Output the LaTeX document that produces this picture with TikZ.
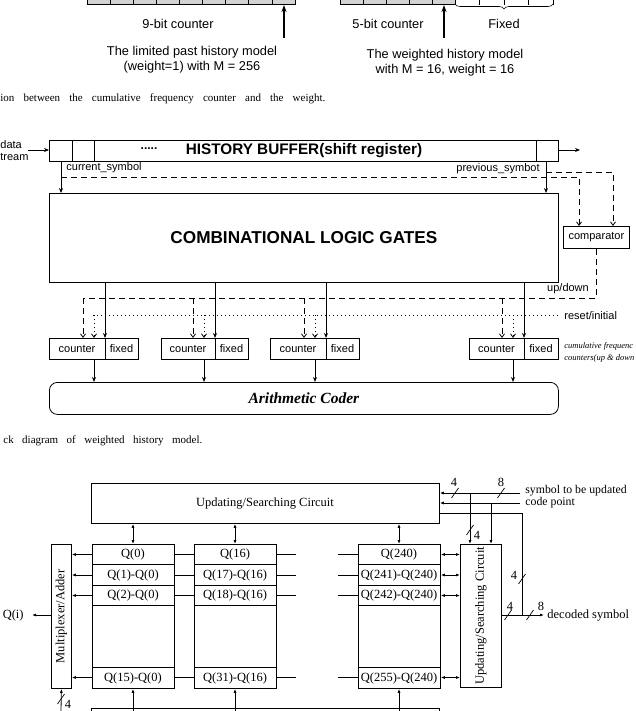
\documentclass[tikz,border=0pt]{standalone}
\usepackage{fontspec}
\setmainfont{Liberation Serif}
\setsansfont{Liberation Sans}
\usetikzlibrary{arrows.meta,decorations.pathreplacing,calc}
\begin{document}
\begin{tikzpicture}[x=1pt,y=-1pt,line width=0.8pt,
  box/.style={draw,inner sep=0pt,anchor=north west},
  cellbox/.style={draw,inner sep=0pt,anchor=south west,fill=gray!35,line width=0.6pt},
  toparrow/.style={-{Stealth[length=7pt,width=5pt]},line width=1.3pt},
  sftop/.style={font=\sffamily\fontsize{12.8}{15}\selectfont,align=center,inner sep=0pt},
  sfs/.style={font=\sffamily\fontsize{11}{12}\selectfont,inner sep=0pt},
  rm/.style={font=\fontsize{12.5}{13}\selectfont,inner sep=0pt},
  rmsm/.style={font=\fontsize{11.8}{12}\selectfont,inner sep=0pt},
  captxt/.style={font=\fontsize{11}{12}\selectfont,inner sep=0pt,anchor=west},
  dshl/.style={dash pattern=on 6pt off 4pt},
  dotl/.style={dash pattern=on 1pt off 3pt},
  sarr/.style={-{Stealth[length=5pt,width=4pt]}},
  oarr/.style={-{Straight Barb[length=3.5pt,width=5pt]}},
  barr/.style={-{Latex[length=4pt,width=3pt]}},
  dbarr/.style={{Latex[length=4pt,width=3pt]}-{Latex[length=4pt,width=3pt]}},
  bus/.pic={\draw[line width=0.7pt] (-3.5,5) -- (3.5,-5);}
]
\useasboundingbox (0,0) rectangle (636,711);
\clip (0,0) rectangle (636,711);

% ---------------- top part ----------------
\node[cellbox,minimum width=208pt,minimum height=14pt] (lstrip) at (87,5) {};
\foreach \i in {1,...,8} \draw[line width=0.6pt] ({87+23.11*\i},-10) -- ({87+23.11*\i},5);
\coordinate (la) at (284,38);
\draw[toparrow] (la) -- (284,0 |- lstrip.south);
\node[sftop] (t9) at (178,24) {9-bit counter};
\node[sftop] (tl) at (192,60) {The limited past history model\\(weight=1) with M = 256};

\node[cellbox,minimum width=115pt,minimum height=14pt] (rstrip) at (340,5) {};
\foreach \i in {1,...,4} \draw[line width=0.6pt] ({340+23*\i},-10) -- ({340+23*\i},5);
\foreach \xx in {479.5,504,528.5,553} \draw[line width=0.6pt] (\xx,-10) -- (\xx,5);
\draw[line width=0.6pt,decorate,decoration={brace,amplitude=5pt,mirror}] (455,4) -- (553,4);
\coordinate (ra) at (444,38);
\draw[toparrow] (ra) -- (444,0 |- rstrip.south);
\node[sftop] (t5) at (388,24) {5-bit counter};
\node[sftop] (tf) at (504,24) {Fixed};
\node[sftop] (tw) at (445,63) {The weighted history model\\with M = 16, weight = 16};

\node[captxt] (cap1) at (0,99) {\makebox[325pt][s]{ion between the cumulative frequency counter and the weight.}};

% ---------------- middle part ----------------
\node[box,minimum width=509pt,minimum height=21pt,line width=1pt] (hb) at (49,140) {};
\foreach \xx in {72,94,536} \draw (\xx,140) -- (\xx,161);
\node[font=\sffamily\bfseries\fontsize{12}{12}\selectfont,inner sep=0pt] (dots) at (149,149) {.....};
\node[font=\sffamily\bfseries\fontsize{15.3}{16}\selectfont,inner sep=0pt] (hbt) at (304,150.5) {HISTORY BUFFER(shift register)};
\node[sfs,anchor=west] (data) at (0,145) {data};
\node[sfs,anchor=west] (tream) at (0,157) {tream};
\coordinate (din) at (28,150);
\draw[sarr] (din) -- (din -| hb.west);
\coordinate (dout) at (580,150);
\draw[sarr] (hb.east |- dout) -- (dout);

\node[box,minimum width=509pt,minimum height=89pt] (lg) at (49,193) {};
\node[font=\sffamily\bfseries\fontsize{17.2}{18}\selectfont,inner sep=0pt] (lgt) at (lg.center) {COMBINATIONAL LOGIC GATES};

\draw[sarr] (61,0 |- hb.south) -- (61,0 |- lg.north);
\node[sfs,anchor=west] (cs) at (66,168) {current\_symbol};
\draw[sarr] (546,0 |- hb.south) -- (546,0 |- lg.north);
\node[sfs,anchor=east] (ps) at (540,168.5) {previous\_symbot};

\node[box,minimum width=66pt,minimum height=22pt] (cmp) at (563,226) {};
\node[sfs] (cmpt) at (cmp.center) {comparator};
\draw[dshl,oarr] (61,177) -- (579,177) -- (579,0 |- cmp.north);
\draw[dshl,oarr] (546,172) -- (613,172) -- (613,0 |- cmp.north);
\draw[dshl] (596,0 |- cmp.south) -- (596,298) -- (83,298);
\node[sfs] (ud) at (568,289) {up/down};
\draw[dotl] (93,315) -- (558,315);
\node[sfs,anchor=west] (ri) at (564,315.5) {reset/initial};

% counter boxes
\node[box,minimum width=509pt,minimum height=32pt,rounded corners=8pt] (ac) at (49,382) {};
\node[font=\bfseries\itshape\fontsize{15.5}{16}\selectfont,inner sep=0pt] (act) at (ac.center) {Arithmetic Coder};
\foreach \l/\d/\r [count=\k] in {49/105/138,161/215/248,270/326/359,469/524/558}{
  \node[box,minimum width={(\r-\l)*1pt},minimum height=21pt] (cb\k) at (\l,338) {};
  \draw (\d,338) -- (\d,359);
  \node[sfs] (cbc\k) at ({(\l+\d)/2},349) {counter};
  \node[sfs] (cbf\k) at ({(\d+\r)/2},349) {fixed};
  \draw[dshl,oarr] (\d-22,298) -- (\d-22,0 |- cb\k.north);
  \draw[dotl,oarr] (\d-11,315) -- (\d-11,0 |- cb\k.north);
  \draw[sarr] (\d,0 |- lg.south) -- (\d,0 |- cb\k.north);
  \draw[sarr] (\d-11,0 |- cb\k.south) -- (\d-11,0 |- ac.north);
}
\node[font=\itshape\fontsize{8.5}{9}\selectfont,inner sep=0pt,anchor=west] (cf1) at (564,346) {cumulative frequenc};
\node[font=\itshape\fontsize{8.5}{9}\selectfont,inner sep=0pt,anchor=west] (cf2) at (564,358) {counters(up \& down};

\node[captxt] (cap2) at (3,441) {\makebox[199pt][s]{ck diagram of weighted history model.}};

% ---------------- bottom part ----------------
\node[box,minimum width=348pt,minimum height=40pt] (usc) at (91,483) {};
\node[rm] (usct) at (265,504) {Updating/Searching Circuit};

\node[box,minimum width=20pt,minimum height=144pt] (mux) at (51,544) {};
\node[rm,rotate=90] (muxt) at (mux.center) {Multiplexer/Adder};
\node[box,minimum width=41pt,minimum height=143pt] (rsc) at (460,544) {};
\node[rm,rotate=90] (rsct) at (rsc.center) {Updating/Searching Circuit};

\foreach \l/\a/\b/\c/\d [count=\k] in {92/0/1/2/15, 194/16/17/18/31, 358/240/241/242/255}{
  \node[box,minimum width=82pt,minimum height=144pt] (col\k) at (\l,544) {};
  \foreach \yy in {564,585,605,667} \draw[line width=0.6pt] (\l,\yy) -- (\l+82,\yy);
  \node[rm] (qa\k) at (\l+41,554.5) {Q(\a)};
  \node[rm] (qb\k) at (\l+41,575) {Q(\b)-Q(\a)};
  \node[rm] (qc\k) at (\l+41,595.5) {Q(\c)-Q(\a)};
  \node[rm] (qd\k) at (\l+41,678) {Q(\d)-Q(\a)};
  \draw[dbarr] (\l+41,0 |- usc.south) -- (\l+41,0 |- col\k.north);
  \coordinate (bot\k) at (\l+41,711);
  \draw[barr] (bot\k) -- (\l+41,0 |- col\k.south);
}
\draw (91,708) rectangle (439,720);
\foreach \yy in {554.5,575,595.5,677.5}{
  \draw[barr] (col1.west |- 0,\yy) -- (mux.east |- 0,\yy);
  \draw[line width=0.6pt] (col1.east |- 0,\yy) -- (col2.west |- 0,\yy);
  \draw[line width=0.6pt] (col2.east |- 0,\yy) -- (296,\yy);
  \draw[line width=0.6pt] (338,\yy) -- (col3.west |- 0,\yy);
  \draw[dbarr] (col3.east |- 0,\yy) -- (rsc.west |- 0,\yy);
}
\coordinate (qi) at (32,615);
\draw[barr] (mux.west |- qi) -- (qi);
\node[rm,anchor=east] (qit) at (24,615) {Q(i)};
\coordinate (mb) at (61,711);
\draw[barr] (mb) -- (mux.south);
\pic at (61,699) {bus};
\node[rm] (m4) at (68,704) {4};

% right side signals
\coordinate (s1) at (520,493);
\coordinate (s2) at (520,503);
\draw[barr] (s1) -- (usc.east |- s1);
\draw[barr] (s2) -- (usc.east |- s2);
\node[rmsm,anchor=west] (s1t) at (525,490.5) {symbol to be updated};
\node[rmsm,anchor=west] (s2t) at (525,502.5) {code point};
\pic at (501,493) {bus};
\node[rm] (l8a) at (501,482) {8};
\pic at (455,493) {bus};
\node[rm] (l4a) at (454,482) {4};
\draw[barr] (470,493) -- (470,0 |- rsc.north);
\pic at (470,530) {bus};
\node[rm] (l4b) at (477,535) {4};
\draw[barr] (491,503) -- (491,0 |- rsc.north);
\coordinate (jn) at (522,615);
\draw (usc.east |- 0,513) -- (522,513) -- (jn);
\pic at (522,579) {bus};
\node[rm] (l4c) at (514,575) {4};
\coordinate (dsy) at (544,615);
\draw[barr] (rsc.east |- dsy) -- (dsy);
\pic at (508,615) {bus};
\node[rm] (l4d) at (510,606) {4};
\pic at (530,615) {bus};
\node[rm] (l8d) at (541,606) {8};
\node[rm,anchor=west] (dst) at (547,616) {decoded symbol};
\end{tikzpicture}
\end{document}
